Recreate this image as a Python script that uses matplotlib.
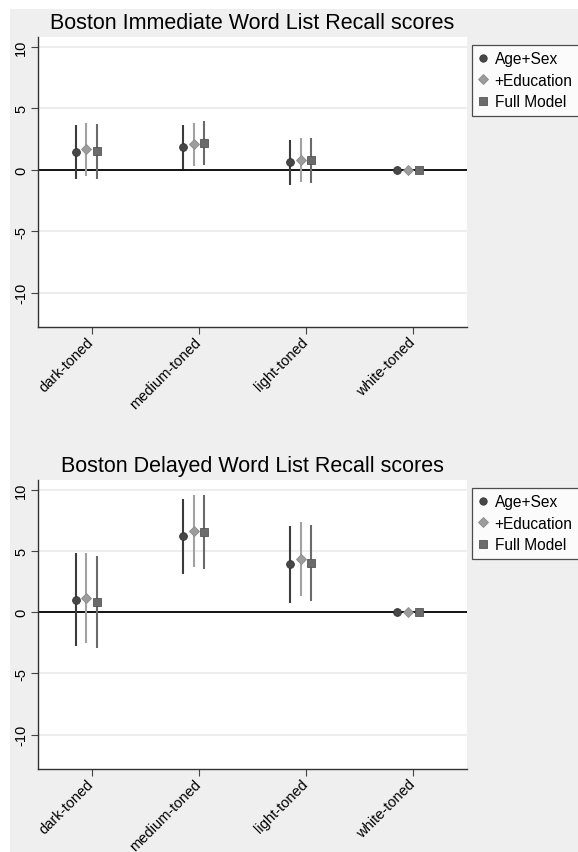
import matplotlib
matplotlib.use('Agg')
import matplotlib.pyplot as plt
from matplotlib.patches import Rectangle
from matplotlib.lines import Line2D

plt.rcParams.update({
    'font.family': ['Liberation Sans', 'DejaVu Sans'],
})

categories = ['dark-toned', 'medium-toned', 'light-toned', 'white-toned']
models = ['Age+Sex', '+Education', 'Full Model']

# Boston Immediate Word List Recall (estimate, lower, upper)
imm_est = [[1.43, 1.84, 0.62, 0.0], [1.65, 2.11, 0.81, 0.0], [1.49, 2.17, 0.76, 0.0]]
imm_lo = [[-0.79, 0.02, -1.22, None], [-0.54, 0.27, -1.00, None], [-0.73, 0.35, -1.06, None]]
imm_hi = [[3.66, 3.66, 2.44, None], [3.82, 3.82, 2.60, None], [3.74, 3.93, 2.60, None]]

# Boston Delayed Word List Recall
del_est = [[1.03, 6.20, 3.93, 0.0], [1.18, 6.67, 4.37, 0.0], [0.80, 6.53, 4.04, 0.0]]
del_lo = [[-2.72, 3.10, 0.79, None], [-2.50, 3.67, 1.33, None], [-2.94, 3.55, 0.95, None]]
del_hi = [[4.80, 9.25, 7.02, None], [4.86, 9.60, 7.40, None], [4.60, 9.56, 7.13, None]]

yticks = [-10, -5, 0, 5, 10]

MARKERS = ['o', 'D', 's']
SIZES = [5.6, 5.4, 5.6]
FACE = ['#474747', '#9c9c9c', '#6b6b6b']
EDGE = ['#333333', '#8a8a8a', '#555555']
LINE = ['#3c3c3c', '#a2a2a2', '#6a6a6a']
OFFSETS = [-0.15, -0.05, 0.05]
BG = '#efefef'

W, H = 578, 853
fig = plt.figure(figsize=(W / 100, H / 100), dpi=100)
fig.patch.set_facecolor('white')
fig.patches.append(Rectangle((10 / W, 0), 1, 1 - 10 / H, transform=fig.transFigure,
                             facecolor=BG, edgecolor='none', zorder=-10))


def panel(rect, title, title_y, est, lo, hi):
    ax = fig.add_axes(rect)
    ax.set_facecolor('white')
    x = list(range(1, len(categories) + 1))
    for yv in yticks:
        if yv != 0:
            ax.axhline(yv, color='#e8e8e8', lw=1.1, zorder=0)
    ax.axhline(0, color='black', lw=1.3, zorder=1)
    for m in range(3):
        xs = [xi + OFFSETS[m] for xi in x]
        for i in range(len(x)):
            if lo[m][i] is not None:
                ax.plot([xs[i], xs[i]], [lo[m][i], hi[m][i]], color=LINE[m], lw=1.5,
                        solid_capstyle='butt', zorder=2)
        ax.plot(xs, est[m], linestyle='none', marker=MARKERS[m], ms=SIZES[m],
                mfc=FACE[m], mec=EDGE[m], mew=0.6, zorder=3)
    ax.set_xlim(0.5, 4.5)
    ax.set_ylim(-12.8, 10.8)
    ax.set_yticks(yticks)
    ax.set_yticklabels([str(v) for v in yticks], rotation=90, va='center', fontsize=10.5)
    ax.set_xticks(x)
    ax.set_xticklabels(categories, rotation=45, ha='right', va='center',
                       rotation_mode='anchor', fontsize=10.5)
    ax.tick_params(axis='y', length=5, width=0.8, color='#444444', pad=2)
    ax.tick_params(axis='x', length=5, width=0.8, color='#444444', pad=4)
    for s in ['top', 'right']:
        ax.spines[s].set_visible(False)
    for s in ['left', 'bottom']:
        ax.spines[s].set_color('#333333')
        ax.spines[s].set_linewidth(1.0)
    cx = rect[0] + rect[2] / 2
    fig.text(cx, title_y, title, ha='center', va='baseline', fontsize=15.5, color='black')
    return ax


ax1 = panel([38 / W, 1 - 328 / H, 429 / W, 290 / H],
            'Boston Immediate Word List Recall scores', 1 - 29 / H, imm_est, imm_lo, imm_hi)
ax2 = panel([38 / W, 1 - 770 / H, 429 / W, 289 / H],
            'Boston Delayed Word List Recall scores', 1 - 472 / H, del_est, del_lo, del_hi)

handles = [Line2D([], [], linestyle='none', marker=MARKERS[m], ms=SIZES[m] * 0.95,
                  mfc=FACE[m], mec=EDGE[m], mew=0.6) for m in range(3)]

for top in [46, 489]:
    leg = fig.legend(handles, models, loc='upper left',
                     bbox_to_anchor=(472 / W, 1 - top / H), bbox_transform=fig.transFigure,
                     borderaxespad=0, fontsize=11.2, frameon=True, fancybox=False,
                     handlelength=0.6, handletextpad=0.45, labelspacing=0.42,
                     borderpad=0.4, edgecolor='#222222', facecolor='white')
    leg.get_frame().set_linewidth(0.9)

fig.savefig('out.png', dpi=100, facecolor='white')
